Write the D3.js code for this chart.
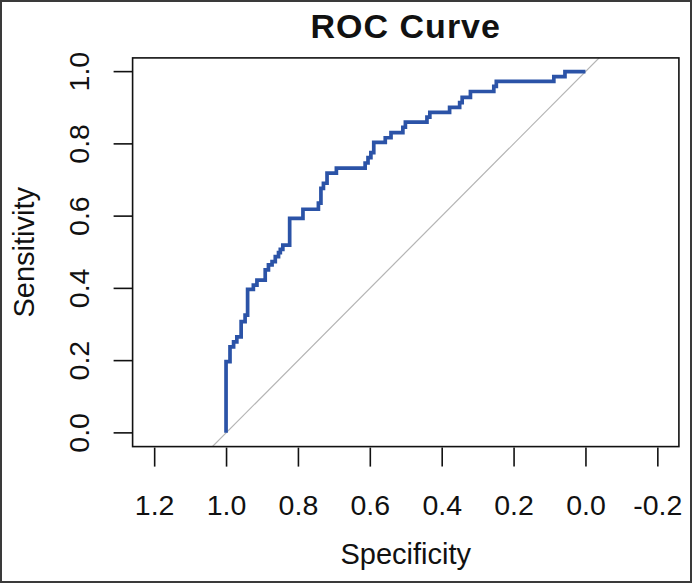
<!DOCTYPE html>
<html>
<head>
<meta charset="utf-8">
<script src="https://d3js.org/d3.v7.min.js"></script>
<style>
    body { margin: 0; background: #fff; }
    text { font-family: "Liberation Sans", Arial, sans-serif; }
</style>
</head>
<body>
<script>
// corners of the ROC step curve
let specificity = [
    1.0, 1.0, 0.989, 0.989, 0.979, 0.979, 0.970, 0.970, 0.958, 0.958,
    0.947, 0.947, 0.940, 0.940, 0.924, 0.924, 0.914, 0.914, 0.891, 0.891,
    0.882, 0.882, 0.872, 0.872, 0.863, 0.863, 0.854, 0.854, 0.849, 0.849,
    0.842, 0.842, 0.823, 0.823, 0.786, 0.786, 0.743, 0.743, 0.736, 0.736,
    0.729, 0.729, 0.719, 0.719, 0.693, 0.693, 0.613, 0.613, 0.605, 0.605,
    0.597, 0.597, 0.589, 0.589, 0.557, 0.557, 0.541, 0.541, 0.508, 0.508,
    0.501, 0.501, 0.441, 0.441, 0.433, 0.433, 0.378, 0.378, 0.350, 0.350,
    0.343, 0.343, 0.320, 0.320, 0.255, 0.255, 0.248, 0.248, 0.088, 0.088,
    0.057, 0.057, 0.0
];
let sensitivity = [
    0.0, 0.197, 0.197, 0.238, 0.238, 0.252, 0.252, 0.266, 0.266, 0.308,
    0.308, 0.326, 0.326, 0.397, 0.397, 0.409, 0.409, 0.423, 0.423, 0.451,
    0.451, 0.465, 0.465, 0.474, 0.474, 0.488, 0.488, 0.499, 0.499, 0.508,
    0.508, 0.520, 0.520, 0.594, 0.594, 0.619, 0.619, 0.636, 0.636, 0.677,
    0.677, 0.691, 0.691, 0.719, 0.719, 0.733, 0.733, 0.747, 0.747, 0.762,
    0.762, 0.776, 0.776, 0.804, 0.804, 0.817, 0.817, 0.831, 0.831, 0.846,
    0.846, 0.860, 0.860, 0.874, 0.874, 0.887, 0.887, 0.901, 0.901, 0.914,
    0.914, 0.929, 0.929, 0.945, 0.945, 0.959, 0.959, 0.973, 0.973, 0.986,
    0.986, 1.0, 1.0
];
let xTicks = [1.2, 1.0, 0.8, 0.6, 0.4, 0.2, 0.0, -0.2];
let yTicks = [0.0, 0.2, 0.4, 0.6, 0.8, 1.0];

let width = 693;
let height = 586;
let box = { left: 132.6, right: 678.9, top: 57.9, bottom: 446.6 };

drawRoc();

function drawRoc() {
    const svg = d3.select("body").append("svg")
        .attr("width", width)
        .attr("height", height)
        .attr("viewBox", [0, 0, width, height]);

    // R style reversed specificity axis, with 4% padding
    let x = d3.scaleLinear([1.26, -0.26], [box.left, box.right]);
    let y = d3.scaleLinear([-0.038, 1.038], [box.bottom, box.top]);
    let fmt = d => d.toFixed(1);

    // outer frame of the figure
    svg.append("rect")
        .attr("x", 1).attr("y", 1)
        .attr("width", width - 3).attr("height", height - 5)
        .attr("fill", "none")
        .attr("stroke", "#3a3a3a")
        .attr("stroke-width", 2);

    // chance diagonal, clipped to the box
    svg.append("clipPath").attr("id", "plotclip")
        .append("rect")
        .attr("x", box.left).attr("y", box.top)
        .attr("width", box.right - box.left).attr("height", box.bottom - box.top);

    svg.append("line")
        .attr("clip-path", "url(#plotclip)")
        .attr("x1", x(1.1)).attr("y1", y(-0.1))
        .attr("x2", x(-0.1)).attr("y2", y(1.1))
        .attr("stroke", "#b4b4b4")
        .attr("stroke-width", 1.2);

    let points = d3.zip(specificity, sensitivity);

    svg.append("path")
        .datum(points)
        .attr("fill", "none")
        .attr("stroke", "#2b53a7")
        .attr("stroke-width", 3.7)
        .attr("stroke-linejoin", "miter")
        .attr("d", d3.line().x(d => x(d[0])).y(d => y(d[1])));

    svg.append("rect")
        .attr("x", box.left).attr("y", box.top)
        .attr("width", box.right - box.left).attr("height", box.bottom - box.top)
        .attr("fill", "none")
        .attr("stroke", "#111")
        .attr("stroke-width", 1.6);

    // x axis
    svg.append("g")
        .attr("transform", `translate(0,${box.bottom + 1})`)
        .call(d3.axisBottom(x).tickValues(xTicks).tickSize(19).tickPadding(28).tickFormat(fmt))
        .call(g => g.select(".domain").remove())
        .call(g => g.selectAll(".tick line").attr("stroke", "#111").attr("stroke-width", 1.6))
        .call(g => g.selectAll(".tick text")
            .attr("font-family", "Liberation Sans, Arial, sans-serif")
            .attr("font-size", 28.5)
            .attr("fill", "#111"));

    // y axis, labels parallel to the axis like R
    let yAxis = svg.append("g")
        .attr("transform", `translate(${box.left},0)`);

    yAxis.selectAll("line")
        .data(yTicks)
        .join("line")
        .attr("x1", 0).attr("x2", -19)
        .attr("y1", d => y(d)).attr("y2", d => y(d))
        .attr("stroke", "#111")
        .attr("stroke-width", 1.6);

    yAxis.selectAll("text")
        .data(yTicks)
        .join("text")
        .attr("transform", d => `translate(-44,${y(d)}) rotate(-90)`)
        .attr("text-anchor", "middle")
        .attr("font-size", 28.5)
        .attr("fill", "#111")
        .text(fmt);

    // titles
    svg.append("text")
        .attr("x", (box.left + box.right) / 2)
        .attr("y", 38)
        .attr("text-anchor", "middle")
        .attr("font-weight", "bold")
        .attr("font-size", 34)
        .attr("letter-spacing", 1)
        .attr("fill", "#111")
        .text("ROC Curve");

    svg.append("text")
        .attr("x", (box.left + box.right) / 2)
        .attr("y", 564)
        .attr("text-anchor", "middle")
        .attr("font-size", 29)
        .attr("fill", "#111")
        .text("Specificity");

    svg.append("text")
        .attr("transform", `translate(34,${(box.top + box.bottom) / 2}) rotate(-90)`)
        .attr("text-anchor", "middle")
        .attr("font-size", 29)
        .attr("fill", "#111")
        .text("Sensitivity");
}
</script>
</body>
</html>
